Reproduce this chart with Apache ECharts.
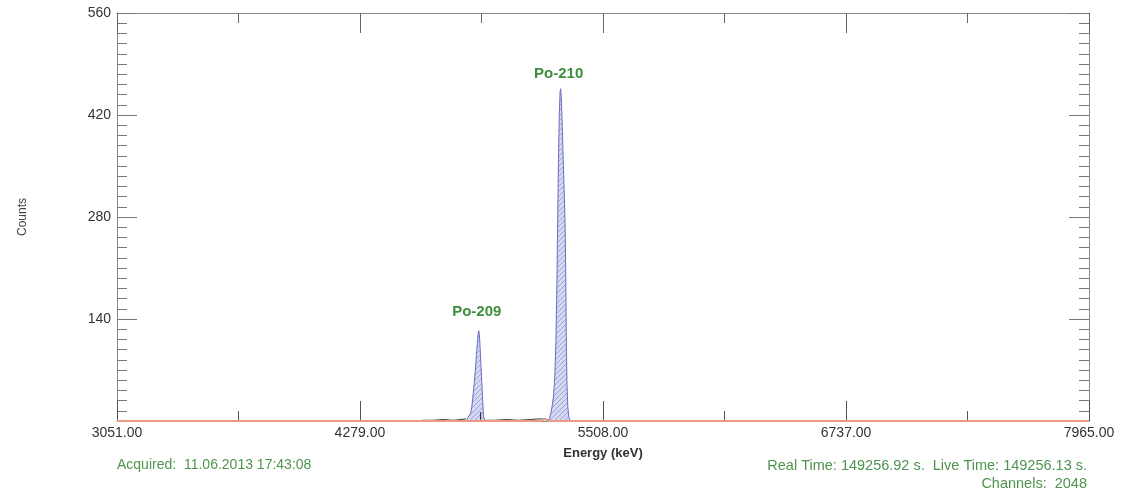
<!DOCTYPE html>
<html>
<head>
<meta charset="utf-8">
<style>
  html, body { margin: 0; padding: 0; background: #ffffff; }
  #chart { width: 1124px; height: 494px; }
</style>
<script src="https://cdn.jsdelivr.net/npm/echarts@6/dist/echarts.min.js"></script>
</head>
<body>
<div id="chart"></div>
<script>
// ---- data ----
const energyTicks = [3051, 4279, 5508, 6737, 7965];
const energyLabels = ['3051.00', '4279.00', '5508.00', '6737.00', '7965.00'];
const energyMinorTicks = [3665, 4893.5, 6122.5, 7351];
const countMin = 0, countMax = 560, countStep = 140;

const po209 = [
  [4815, 0], [4822, 3], [4830, 7], [4838, 10], [4845, 20], [4850, 33], [4856, 50],
  [4862, 68], [4868, 90], [4873, 108], [4877, 120], [4880, 124], [4883, 118],
  [4887, 100], [4891, 76], [4895, 55], [4899, 33], [4902, 15], [4905, 6], [4910, 1], [4915, 0]
];
const po210 = [
  [5230, 0], [5238, 4], [5245, 12], [5252, 22], [5258, 35], [5264, 60], [5270, 110],
  [5275, 190], [5279, 280], [5283, 360], [5287, 420], [5291, 452], [5294, 456],
  [5297, 445], [5301, 415], [5305, 375], [5309, 340], [5313, 305], [5317, 260],
  [5320, 190], [5323, 100], [5326, 50], [5330, 20], [5335, 6], [5342, 0]
];
const lowCountsA = [[4560, 0], [4600, 1], [4650, 1], [4700, 2], [4750, 1], [4790, 2], [4815, 3]];
const lowCountsB = [[4915, 1], [4960, 1], [5020, 2], [5080, 1], [5140, 2], [5190, 3], [5230, 2]];
const roiMarker = [[4889, 2], [4889, 12]];
const background = [[3051, 0], [5195, 0], [5205, 2], [5215, 3], [5225, 1], [5232, 0], [7965, 0]];

const peakLabels = [
  { text: 'Po-209', peak: [4880, 124], dy: 19 },
  { text: 'Po-210', peak: [5294, 456], dy: 15 }
];
const footerLeft = 'Acquired:  11.06.2013 17:43:08';
const footerRight1 = 'Real Time: 149256.92 s.  Live Time: 149256.13 s.';
const footerRight2 = 'Channels:  2048';

// ---- hatch pattern ----
function hatch() {
  const c = document.createElement('canvas');
  c.width = 5; c.height = 5;
  const g = c.getContext('2d');
  g.fillStyle = '#d6d8f1';
  g.fillRect(0, 0, 5, 5);
  g.strokeStyle = '#9296d6';
  g.lineWidth = 0.8;
  g.beginPath();
  g.moveTo(0, 5); g.lineTo(5, 0);
  g.moveTo(-1, 1); g.lineTo(1, -1);
  g.moveTo(4, 6); g.lineTo(6, 4);
  g.stroke();
  return c;
}
const pattern = { image: hatch(), repeat: 'repeat' };

const axisGray = '#8a8a8a';
const green = '#4e944e';
const font = 'Liberation Sans, Arial, sans-serif';
const chart = echarts.init(document.getElementById('chart'));

const xBase = {
  type: 'value', min: energyTicks[0], max: energyTicks[energyTicks.length - 1],
  splitLine: { show: false }
};

chart.setOption({
  animation: false,
  backgroundColor: '#ffffff',
  textStyle: { fontFamily: font },
  grid: { left: 117, right: 35, top: 13, bottom: 73 },
  xAxis: [
    Object.assign({}, xBase, {
      position: 'bottom',
      axisLine: { lineStyle: { color: axisGray, width: 1 } },
      axisTick: { inside: true, length: 20, customValues: energyTicks, lineStyle: { color: '#555' } },
      axisLabel: {
        customValues: energyTicks, margin: 5, color: '#333', fontSize: 14,
        formatter: v => energyLabels[energyTicks.indexOf(v)]
      },
      name: 'Energy (keV)', nameLocation: 'middle', nameGap: 26,
      nameTextStyle: { color: '#333', fontSize: 13, fontWeight: 'bold' }
    }),
    Object.assign({}, xBase, {
      position: 'bottom',
      axisLine: { show: false },
      axisTick: { inside: true, length: 10, customValues: energyMinorTicks, lineStyle: { color: '#555' } },
      axisLabel: { show: false }
    }),
    Object.assign({}, xBase, {
      position: 'top',
      axisLine: { lineStyle: { color: axisGray, width: 1 } },
      axisTick: { inside: true, length: 20, customValues: energyTicks, lineStyle: { color: '#666' } },
      axisLabel: { show: false }
    }),
    Object.assign({}, xBase, {
      position: 'top',
      axisLine: { show: false },
      axisTick: { inside: true, length: 10, customValues: energyMinorTicks, lineStyle: { color: '#666' } },
      axisLabel: { show: false }
    })
  ],
  yAxis: [
    {
      type: 'value', min: countMin, max: countMax, interval: countStep, position: 'left',
      splitLine: { show: false },
      axisLine: { show: true, lineStyle: { color: axisGray } },
      axisTick: { show: true, inside: true, length: 20, lineStyle: { color: '#777' } },
      minorTick: { show: true, splitNumber: 10, length: 10, lineStyle: { color: '#777' } },
      axisLabel: { color: '#333', fontSize: 14, margin: 6, formatter: v => (v === 0 ? '' : String(v)) },
      name: 'Counts', nameLocation: 'middle', nameGap: 88, nameRotate: 90,
      nameTextStyle: { color: '#444', fontSize: 12 }
    },
    {
      type: 'value', min: countMin, max: countMax, interval: countStep, position: 'right',
      splitLine: { show: false },
      axisLine: { show: true, lineStyle: { color: axisGray } },
      axisTick: { show: true, inside: true, length: 20, lineStyle: { color: '#777' } },
      minorTick: { show: true, splitNumber: 10, length: 10, lineStyle: { color: '#777' } },
      axisLabel: { show: false }
    }
  ],
  series: [
    {
      name: 'Po-209', type: 'line', data: po209, showSymbol: false, z: 3,
      lineStyle: { color: '#6a6ec2', width: 1 },
      areaStyle: { color: pattern, opacity: 1 }
    },
    {
      name: 'Po-210', type: 'line', data: po210, showSymbol: false, z: 3,
      lineStyle: { color: '#6a6ec2', width: 1 },
      areaStyle: { color: pattern, opacity: 1 }
    },
    { type: 'line', data: lowCountsA, showSymbol: false, z: 4, lineStyle: { color: '#333', width: 1 } },
    { type: 'line', data: lowCountsB, showSymbol: false, z: 4, lineStyle: { color: '#333', width: 1 } },
    { type: 'line', data: roiMarker, showSymbol: false, z: 5, lineStyle: { color: '#333', width: 1.2 } },
    {
      type: 'line', data: background, showSymbol: false, z: 6,
      lineStyle: { color: '#ec9a84', width: 2 }
    }
  ]
});

// labels positioned from data
const graphics = [];
peakLabels.forEach(p => {
  const px = chart.convertToPixel({ xAxisIndex: 0, yAxisIndex: 0 }, p.peak);
  graphics.push({
    type: 'text', x: px[0] - 2, y: px[1] - p.dy,
    style: { text: p.text, fill: '#3f8f3f', font: 'bold 15px ' + font,
      align: 'center', verticalAlign: 'middle' }
  });
});
graphics.push({
  type: 'text', left: 117, top: 458,
  style: { text: footerLeft, fill: green, font: '14px ' + font }
});
graphics.push({
  type: 'text', right: 37, top: 458,
  style: { text: footerRight1, fill: green, font: '14.5px ' + font }
});
graphics.push({
  type: 'text', right: 37, top: 476,
  style: { text: footerRight2, fill: green, font: '14.5px ' + font }
});
chart.setOption({ graphic: graphics });
</script>
</body>
</html>
